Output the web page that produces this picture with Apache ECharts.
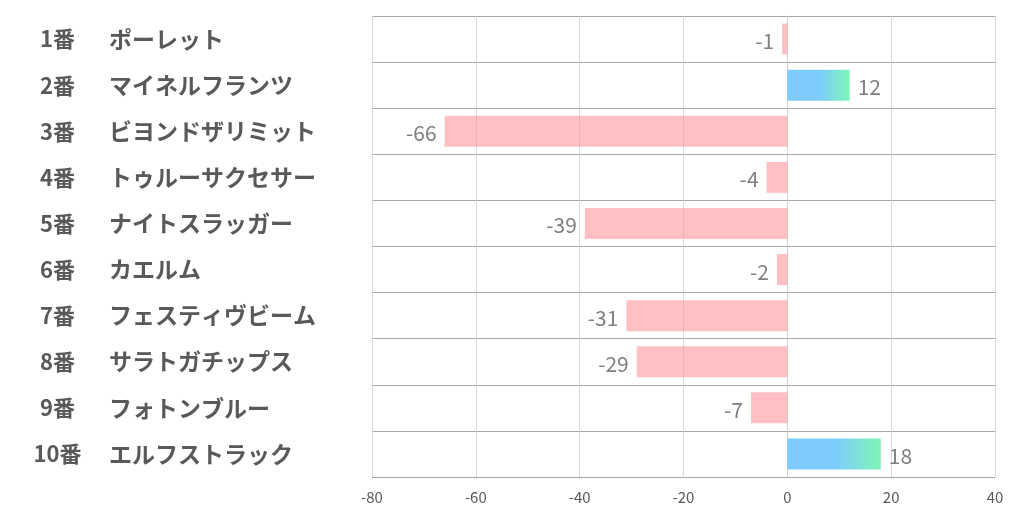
<!DOCTYPE html>
<html><head><meta charset="utf-8">
<script src="https://cdn.jsdelivr.net/npm/echarts@6/dist/echarts.min.js"></script>
<style>html,body{margin:0;padding:0;background:#fff}#c{width:1022px;height:522px}</style>
</head><body><div id="c"></div>
<script>
const numbers = ['1番','2番','3番','4番','5番','6番','7番','8番','9番','10番'];
const names = ['ポーレット','マイネルフランツ','ビヨンドザリミット','トゥルーサクセサー','ナイトスラッガー','カエルム','フェスティヴビーム','サラトガチップス','フォトンブルー','エルフストラック'];
const values = [-1, 12, -66, -4, -39, -2, -31, -29, -7, 18];
const xTicks = [-80, -60, -40, -20, 0, 20, 40];

const categories = numbers.map((n, i) => n + '　' + names[i]);
const jp = '"Noto Sans CJK JP", "Noto Sans", sans-serif';
const pos = new echarts.graphic.LinearGradient(0, 0, 1, 0, [
  {offset: 0, color: '#7dcbff'}, {offset: 0.5, color: '#7dcbff'}, {offset: 1, color: '#7ff5b8'}
]);
const chart = echarts.init(document.getElementById('c'));
chart.setOption({
  animation: false,
  grid: {left: 372, right: 27, top: 16, bottom: 45, containLabel: false},
  xAxis: {
    type: 'value', min: xTicks[0], max: xTicks[xTicks.length - 1], interval: 20,
    axisLine: {show: false}, axisTick: {show: false},
    axisLabel: {color: '#595959', fontSize: 15, fontFamily: jp, margin: 13},
    splitLine: {show: true, lineStyle: {color: '#d9d9d9', width: 1}}
  },
  yAxis: {
    type: 'category', data: categories, inverse: true,
    axisLine: {show: true, lineStyle: {color: '#d0d0d0'}}, axisTick: {show: false},
    splitLine: {show: true, lineStyle: {color: '#a6a6a6', width: 1}},
    axisLabel: {
      align: 'left', margin: 340,
      formatter: (v, i) => '{n|' + numbers[i] + '}{s|}{m|' + names[i] + '}',
      rich: {
        n: {width: 51, align: 'right', fontSize: 22, fontWeight: 'bold', color: '#595959', fontFamily: jp},
        s: {width: 26},
        m: {align: 'left', fontSize: 23, fontWeight: 'bold', color: '#595959', fontFamily: jp}
      }
    }
  },
  series: [{
    type: 'bar', barWidth: 31,
    data: values.map(v => ({
      value: v,
      itemStyle: {color: v >= 0 ? pos : 'rgba(255,160,166,0.68)'},
      label: {position: v >= 0 ? 'right' : 'left'}
    })),
    label: {show: true, color: '#7f7f7f', fontSize: 21, fontFamily: jp, distance: 8, offset: [0, 2]},
    z: 1
  }]
});
</script></body></html>
